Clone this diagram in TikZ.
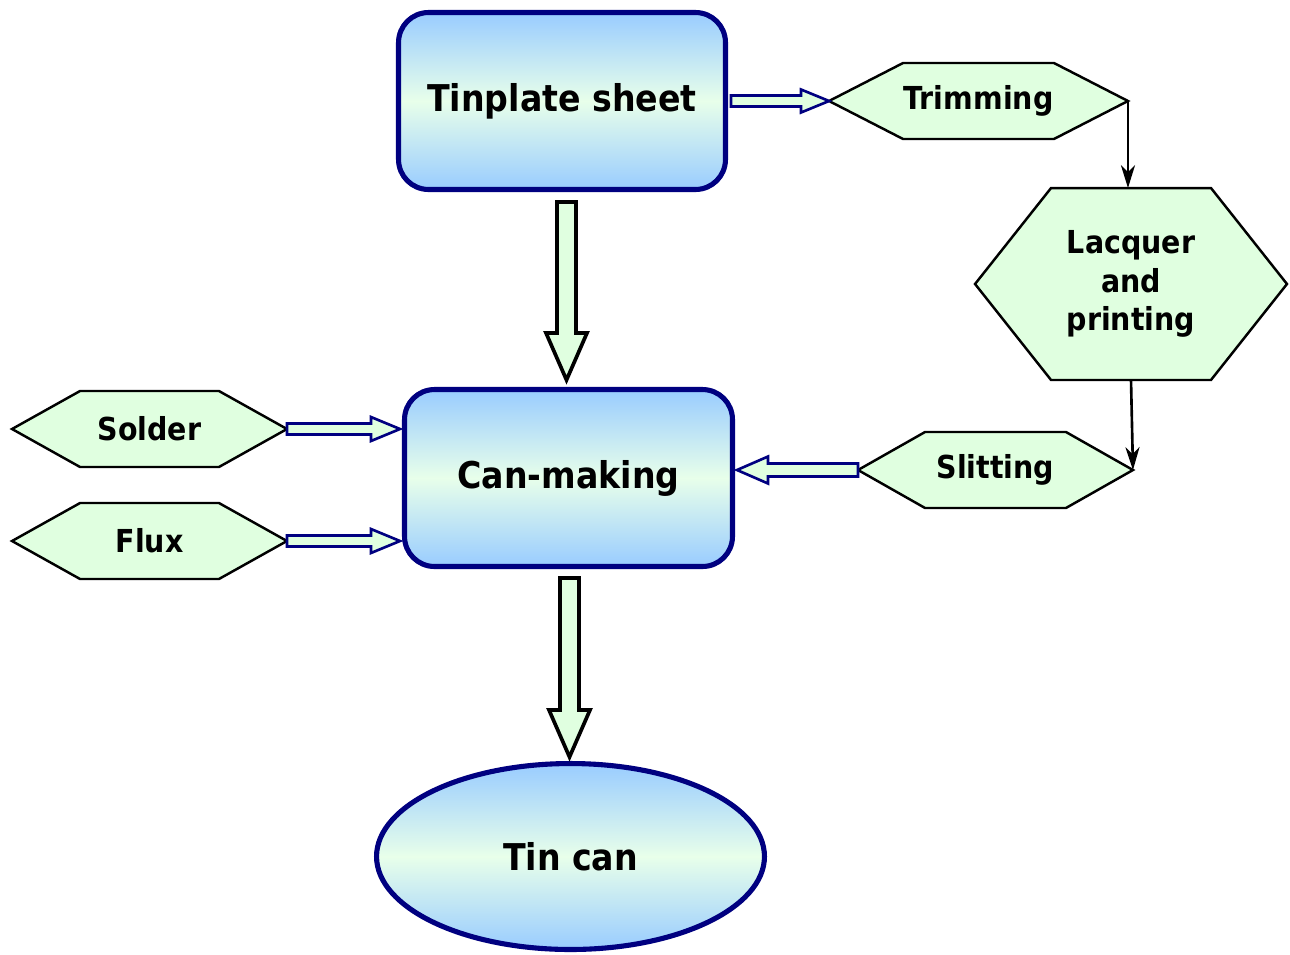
\documentclass[tikz,border=0pt]{standalone}
\usepackage{fontspec}
\setmainfont{DejaVu Sans}[FakeStretch=0.9]
\usetikzlibrary{calc,arrows.meta,shapes.geometric,backgrounds}
\definecolor{navyb}{RGB}{0,0,128}
\definecolor{skyb}{RGB}{153,204,255}
\definecolor{paleg}{RGB}{224,255,224}
\definecolor{mintg}{RGB}{232,255,234}
\newcommand\bigfnt{\fontsize{21}{25}\selectfont\bfseries}
\newcommand\lblfnt{\fontsize{18}{22}\selectfont\bfseries}
% block arrow: style, start, end, shaft half width, head half width, head length
\newcommand\blockarrow[6]{%
  \coordinate (ba) at (#2);
  \coordinate (bb) at (#3);
  \coordinate (bc) at ($(bb)!#6!(ba)$);
  \draw[#1] ($(ba)!#4!90:(bb)$) -- ($(bc)!#4!90:(bb)$) -- ($(bc)!#5!90:(bb)$) -- (bb)
    -- ($(bc)!#5!-90:(bb)$) -- ($(bc)!#4!-90:(bb)$) -- ($(ba)!#4!-90:(bb)$) -- cycle;}
\newcommand\hexpath[2]{%
  \filldraw[hexshape] (#1.west) -- ($(#1.north west)+(#2,0)$) -- ($(#1.north east)-(#2,0)$)
    -- (#1.east) -- ($(#1.south east)-(#2,0)$) -- ($(#1.south west)+(#2,0)$) -- cycle;}
\tikzset{
  mainbox/.style={rectangle, rounded corners=0.6cm, draw=navyb, line width=2.9pt,
    top color=skyb, bottom color=skyb, middle color=mintg, font=\bigfnt,
    inner sep=0pt, align=center},
  hexbox/.style={rectangle, inner sep=0pt, outer sep=0pt, font=\lblfnt, align=center},
  hexshape/.style={draw=black, line width=1.4pt, fill=paleg, line join=miter},
  harrow/.style={draw=navyb, line width=1.5pt, fill=paleg, line join=miter},
  varrow/.style={draw=black, line width=2.1pt, fill=paleg, line join=miter},
  thinarrow/.style={draw=black, line width=1.5pt, -{Stealth[length=13pt,width=8pt,inset=4pt]}}
}
\begin{document}
\begin{tikzpicture}[x=0.02cm, y=-0.02cm]
\useasboundingbox (0,0) rectangle (1290,954);
% main boxes
\node[mainbox, minimum width=6.54cm, minimum height=3.54cm] (tin) at (562,101) {Tinplate sheet};
\node[mainbox, minimum width=6.56cm, minimum height=3.54cm] (can) at (568.5,478) {Can-making};
\node[ellipse, draw=navyb, line width=2.9pt, top color=skyb, bottom color=skyb, middle color=mintg,
  font=\bigfnt, inner sep=0pt, minimum width=7.76cm, minimum height=3.72cm] (tincan) at (570.5,856.5) {Tin can};
% hexagon boxes
\node[hexbox, minimum width=5.98cm, minimum height=1.52cm] (trim) at (978.5,101) {Trimming};
\node[hexbox, minimum width=6.24cm, minimum height=3.84cm] (lacq) at (1131,284) {Lacquer\\and\\printing};
\node[hexbox, minimum width=5.50cm, minimum height=1.52cm] (slit) at (995.5,470) {Slitting};
\node[hexbox, minimum width=5.50cm, minimum height=1.52cm] (solder) at (149.5,429) {Solder};
\node[hexbox, minimum width=5.50cm, minimum height=1.52cm] (flux) at (149.5,541) {Flux};
\begin{scope}[on background layer]
  \fill[white] (0,0) rectangle (1290,954);
  \hexpath{trim}{74}
  \hexpath{lacq}{76}
  \hexpath{slit}{67}
  \hexpath{solder}{68}
  \hexpath{flux}{68}
\end{scope}
% block arrows
\blockarrow{harrow}{$(tin.east)+(3,0)$}{trim.west}{0.11cm}{0.23cm}{0.56cm}
\blockarrow{harrow}{slit.west}{$(slit.west -| can.east)+(2,0)$}{0.13cm}{0.27cm}{0.62cm}
\blockarrow{harrow}{solder.east}{$(solder.east -| can.west)+(-2,0)$}{0.11cm}{0.24cm}{0.58cm}
\blockarrow{harrow}{flux.east}{$(flux.east -| can.west)+(-2,0)$}{0.11cm}{0.24cm}{0.58cm}
\blockarrow{varrow}{$(tin.south -| can.north)+(-2,10)$}{$(can.north)+(-2,-7)$}{0.19cm}{0.41cm}{0.94cm}
\blockarrow{varrow}{$(can.south)+(1,9)$}{$(tincan.north)+(-1,-4)$}{0.19cm}{0.41cm}{0.94cm}
% thin connectors
\draw[thinarrow] (trim.east) -- (trim.east |- lacq.north);
\draw[thinarrow] (lacq.south) -- (slit.east);
\end{tikzpicture}
\end{document}
